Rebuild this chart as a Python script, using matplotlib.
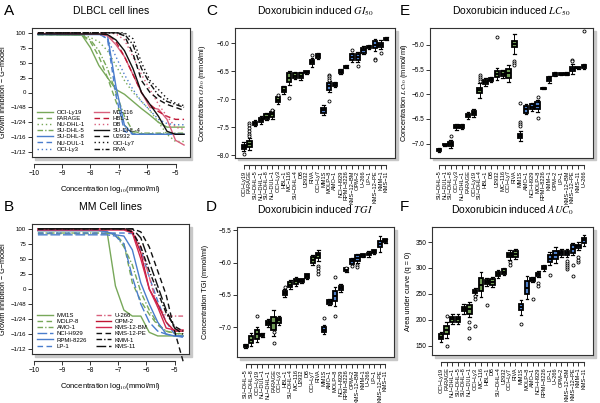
## Doxorubicin dose response: growth curves (A, B) and summary statistics (C-F)

## -----------------------
## Load libraries
import numpy as np
import matplotlib
matplotlib.use("Agg")
import matplotlib.pyplot as plt
from matplotlib.patches import Rectangle
from matplotlib.ticker import FuncFormatter

plt.rcParams['font.family'] = ['Liberation Sans', 'DejaVu Sans']
plt.rcParams['mathtext.fontset'] = 'stix'

## -----------------------
## Dose grid, log10(mmol/ml)
conc = [-9.85, -8.3, -8.0, -7.7, -7.4, -7.1, -6.8, -6.5, -6.2, -5.9, -5.6, -5.3, -5.0, -4.7]

## Panel A - DLBCL growth curves
dlbcl_lines = ["OCI-Ly19", "FARAGE", "NU-DHL-1", "SU-DHL-5", "SU-DHL-8", "NU-DUL-1", "OCI-Ly3",
               "MC-116", "HBL-1", "DB", "SU-DHL-4", "U2932", "OCI-Ly7", "RIVA"]
growth_A = [
    [97, 96, 75, 45, 25, 5, -3, -15, -27, -38, -50, -58, -58, -58],
    [97, 96, 85, 60, 25, -15, -55, -68, -69, -69, -69, -70, -70, -70],
    [97, 97, 92, 85, 70, 45, 20, 0, -15, -30, -50, -70, -82, -82],
    [97, 96, 88, 70, 40, 0, -40, -65, -68, -68, -68, -68, -68, -68],
    [97, 97, 97, 97, 96, 10, -55, -70, -70, -70, -70, -70, -70, -70],
    [99, 99, 99, 98, 90, -5, -65, -70, -70, -70, -70, -70, -70, -70],
    [99, 99, 99, 98, 90, 60, 30, 5, -15, -30, -45, -52, -54, -54],
    [99, 98, 98, 98, 95, 80, 60, 30, 0, -25, -28, -45, -80, -88],
    [100, 100, 100, 100, 98, 85, 60, 30, 0, -20, -32, -40, -45, -45],
    [100, 100, 100, 100, 100, 98, 88, 60, 30, 5, -20, -40, -58, -62],
    [98, 98, 98, 98, 97, 88, 70, 40, 0, -20, -40, -65, -70, -70],
    [100, 100, 100, 100, 100, 100, 95, 65, 20, 0, -12, -20, -25, -30],
    [100, 100, 100, 100, 100, 100, 100, 90, 50, 20, 5, -10, -18, -22],
    [100, 100, 100, 100, 100, 100, 98, 80, 40, 15, -5, -15, -20, -25],
]

## Panel B - MM growth curves
mm_lines = ["MM1S", "MOLP-8", "AMO-1", "NCI-H929", "RPMI-8226", "LP-1",
            "U-266", "OPM-2", "KMS-12-BM", "KMS-12-PE", "KMM-1", "KMS-11"]
growth_B = [
    [97, 97, 97, 97, 96, 5, -35, -45, -45, -72, -78, -78, -78, -78],
    [92, 92, 92, 92, 92, 92, 75, 10, -20, -42, -60, -70, -74, -75],
    [93, 93, 93, 93, 93, 90, 70, 40, -5, -35, -58, -70, -73, -75],
    [90, 90, 90, 90, 90, 88, 75, 20, -25, -55, -70, -75, -78, -80],
    [97, 97, 97, 97, 95, 90, 88, 65, 10, -25, -55, -75, -78, -78],
    [93, 93, 93, 93, 93, 93, 93, 92, 65, 20, -20, -55, -75, -80],
    [100, 100, 100, 100, 100, 100, 100, 97, 70, 20, -30, -45, -45, -45],
    [100, 100, 100, 100, 100, 100, 100, 95, 60, 0, -25, -55, -70, -70],
    [98, 98, 98, 98, 98, 98, 98, 93, 50, 0, -30, -65, -68, -68],
    [100, 100, 100, 100, 100, 100, 100, 100, 95, 70, 30, -10, -70, -120],
    [100, 100, 100, 100, 100, 100, 100, 95, 70, 30, -5, -40, -62, -70],
    [100, 100, 100, 100, 100, 100, 100, 100, 85, 45, 5, -35, -65, -75],
]

## Panel C - GI50 (sorted within group)
names_C = ["OCI-Ly19", "FARAGE", "SU-DHL-5", "NU-DHL-1", "SU-DHL-8", "NU-DUL-1", "OCI-Ly3", "HBL-1",
           "MC-116", "SU-DHL-4", "DB", "U2932", "RIVA", "OCI-Ly7", "MM1S", "MOLP-8", "AMO-1",
           "NCI-H929", "RPMI-8226", "KMS-12-BM", "OPM-2", "U-266", "LP-1", "KMS-12-PE", "KMM-1", "KMS-11"]
med_C = [-7.85, -7.80, -7.43, -7.37, -7.31, -7.27, -7.01, -6.83, -6.62, -6.58, -6.58, -6.52, -6.34,
         -6.23, -7.20, -6.77, -6.74, -6.51, -6.42, -6.25, -6.25, -6.13, -6.07, -6.03, -6.03, -5.92]
iqr_C = [0.04, 0.05, 0.03, 0.04, 0.04, 0.04, 0.04, 0.04, 0.08, 0.04, 0.04, 0.02, 0.04,
         0.03, 0.05, 0.06, 0.03, 0.03, 0.02, 0.05, 0.05, 0.04, 0.02, 0.06, 0.04, 0.02]
wsk_C = [0.08, 0.10, 0.05, 0.07, 0.07, 0.08, 0.08, 0.07, 0.13, 0.06, 0.07, 0.03, 0.08,
         0.06, 0.09, 0.10, 0.04, 0.04, 0.03, 0.08, 0.09, 0.07, 0.04, 0.11, 0.08, 0.03]
out_C = {"OCI-Ly19": [-7.97], "FARAGE": [-7.42, -7.47, -7.52, -7.57, -7.62, -7.66],
         "NU-DUL-1": [-7.19], "OCI-Ly3": [-6.92], "MC-116": [-6.98], "RIVA": [-6.21],
         "MOLP-8": [-6.56, -6.59, -6.62, -6.65, -7.03], "KMS-12-BM": [-6.13],
         "OPM-2": [-6.40], "KMS-12-PE": [-6.28, -6.31], "KMM-1": [-6.17]}

## Panel D - TGI
names_D = ["SU-DHL-5", "SU-DHL-8", "OCI-Ly19", "NU-DUL-1", "NU-DHL-1", "FARAGE", "OCI-Ly3", "HBL-1",
           "SU-DHL-4", "MC-116", "U2932", "DB", "OCI-Ly7", "RIVA", "MM1S", "AMO-1", "MOLP-8",
           "NCI-H929", "RPMI-8226", "OPM-2", "KMS-12-BM", "KMM-1", "U-266", "LP-1", "KMS-12-PE", "KMS-11"]
med_D = [-7.29, -7.19, -7.11, -7.12, -6.93, -6.94, -6.89, -6.47, -6.34, -6.29, -6.28, -6.21, -5.96,
         -5.89, -7.04, -6.61, -6.52, -6.39, -6.11, -5.98, -5.93, -5.89, -5.87, -5.83, -5.71, -5.66]
iqr_D = [0.02, 0.05, 0.07, 0.02, 0.03, 0.10, 0.04, 0.03, 0.04, 0.04, 0.02, 0.03, 0.04,
         0.04, 0.04, 0.03, 0.08, 0.03, 0.02, 0.04, 0.04, 0.02, 0.02, 0.02, 0.05, 0.02]
wsk_D = [0.03, 0.10, 0.12, 0.03, 0.06, 0.20, 0.07, 0.06, 0.07, 0.07, 0.03, 0.04, 0.08,
         0.09, 0.07, 0.04, 0.15, 0.06, 0.03, 0.05, 0.07, 0.03, 0.05, 0.03, 0.12, 0.03]
out_D = {"OCI-Ly19": [-6.82], "FARAGE": [-7.07, -7.25], "HBL-1": [-6.38],
         "RIVA": [-6.05, -6.09, -6.13, -6.17], "MM1S": [-6.86], "MOLP-8": [-6.22, -6.83],
         "RPMI-8226": [-6.09], "OPM-2": [-6.05], "KMS-12-BM": [-6.04, -6.07]}

## Panel E - LC50
names_E = ["SU-DHL-5", "NU-DUL-1", "SU-DHL-8", "OCI-Ly3", "NU-DHL-1", "FARAGE", "OCI-Ly19", "SU-DHL-4",
           "HBL-1", "DB", "U2932", "MC-116", "OCI-Ly7", "RIVA", "MM1S", "AMO-1", "NCI-H929", "MOLP-8",
           "RPMI-8226", "KMM-1", "OPM-2", "LP-1", "KMS-12-BM", "KMS-12-PE", "KMS-11", "U-266"]
med_E = [-7.12, -7.02, -7.00, -6.66, -6.66, -6.43, -6.38, -5.92, -5.76, -5.71, -5.59, -5.59, -5.58,
         -4.99, -6.84, -6.30, -6.25, -6.23, -5.88, -5.70, -5.60, -5.60, -5.59, -5.49, -5.46, -5.43]
iqr_E = [0.02, 0.01, 0.04, 0.03, 0.03, 0.04, 0.04, 0.05, 0.04, 0.03, 0.06, 0.05, 0.10,
         0.06, 0.04, 0.07, 0.05, 0.07, 0.01, 0.04, 0.03, 0.02, 0.02, 0.05, 0.01, 0.03]
wsk_E = [0.04, 0.02, 0.08, 0.06, 0.05, 0.08, 0.09, 0.15, 0.08, 0.05, 0.12, 0.08, 0.18,
         0.20, 0.10, 0.10, 0.08, 0.12, 0.02, 0.07, 0.04, 0.02, 0.03, 0.10, 0.02, 0.05]
out_E = {"SU-DHL-8": [-6.85], "SU-DHL-4": [-5.62, -5.66, -5.70, -5.74], "U2932": [-4.85],
         "RIVA": [-5.32, -5.37, -5.41], "MM1S": [-6.18, -6.56, -6.60, -6.64],
         "MOLP-8": [-6.05, -6.48], "KMS-12-PE": [-5.30, -5.33], "U-266": [-4.72]}

## Panel F - AUC (q = 0)
names_F = ["OCI-Ly19", "FARAGE", "NU-DHL-1", "SU-DHL-5", "SU-DHL-8", "NU-DUL-1", "OCI-Ly3", "MC-116",
           "HBL-1", "DB", "SU-DHL-4", "U2932", "OCI-Ly7", "RIVA", "MM1S", "MOLP-8", "AMO-1",
           "NCI-H929", "RPMI-8226", "LP-1", "U-266", "OPM-2", "KMS-12-BM", "KMS-12-PE", "KMM-1", "KMS-11"]
med_F = [167, 180, 201, 201, 221, 220, 254, 268, 273, 273, 288, 293, 325, 327,
         224, 262, 277, 288, 300, 318, 325, 329, 329, 337, 342, 353]
iqr_F = [5, 7, 5, 5, 4, 8, 3, 12, 4, 5, 4, 4, 4, 5, 6, 12, 3, 3, 3, 7, 8, 4, 4, 8, 3, 5]
wsk_F = [10, 15, 10, 10, 10, 15, 7, 25, 8, 10, 8, 7, 10, 10, 15, 22, 5, 6, 6, 12, 15, 7, 8, 12, 8, 10]
out_F = {"FARAGE": [208, 150], "NU-DUL-1": [195, 184, 165], "OCI-Ly3": [245, 240, 188],
         "HBL-1": [228], "OCI-Ly7": [311, 306], "MM1S": [192], "AMO-1": [240],
         "NCI-H929": [270, 266], "LP-1": [286], "KMS-12-BM": [298, 302, 306, 310, 314],
         "KMS-12-PE": [284, 306], "KMM-1": [311, 316, 321]}

## -----------------------
## Styles
GREEN = '#78a85a'
BLUE = '#4a7dcc'
RED = '#c01533'
CRIMSON = '#d3284f'
PINK = '#d8607c'
BLACK = '#111111'
SOLID = '-'
DASH = (0, (4, 2.5))
DOT = (0, (1, 2))
DASHDOT = (0, (4, 1.5, 1, 1.5))
LONGDASH = (0, (7, 2))

col_A = [GREEN]*4 + [BLUE]*3 + [PINK, RED, PINK] + [BLACK]*4
ls_A = [SOLID, DASH, DOT, DASHDOT, SOLID, DASH, DOT, SOLID, DASH, DOT, SOLID, DASH, DOT, DASHDOT]
col_B = [GREEN]*3 + [BLUE]*3 + [PINK, RED, CRIMSON] + [BLACK]*3
ls_B = [SOLID, DASH, DASHDOT, LONGDASH, SOLID, DASH, DASHDOT, SOLID, SOLID, DASH, DASHDOT, LONGDASH]

BOX_GREEN = '#6f9a55'
BOX_BLUE = '#4f7fc8'
FRAME = '#333333'

def minus(s):
    return s.replace('-', '\u2212')

def frame_axes(ax, lo, hi):
    ## box round the plot, x axis drawn a little below it (R style)
    for sp in ax.spines.values():
        sp.set_color(FRAME)
        sp.set_linewidth(0.8)
    ax.spines['bottom'].set_position(('outward', 5))
    ax.spines['bottom'].set_bounds(lo, hi)
    ax.plot([0, 1], [0, 0], transform=ax.transAxes, color=FRAME, lw=0.8, clip_on=False)
    ax.tick_params(length=3, width=0.7, color=FRAME, labelsize=4.7, pad=1.2)
    ## soft shadow
    bb = ax.get_position()
    fig.patches.append(Rectangle((bb.x0 + 2.5/600, bb.y0 - 2.5/403), bb.width, bb.height,
                                 transform=fig.transFigure, color='#c8c8c8', zorder=-1))

def curve_panel(ax, names, growth, cols, styles, title, ylab_x):
    for i in range(len(names)):
        ax.plot(conc, growth[i], color=cols[i], linestyle=styles[i], lw=1.0, label=names[i])
    ax.set_xlim(-10.06, -4.49)
    ax.set_ylim(-108, 108)
    ax.set_xticks([-10, -9, -8, -7, -6, -5])
    ax.set_xticklabels([minus(str(v)) for v in [-10, -9, -8, -7, -6, -5]])
    ax.set_yticks([100, 75, 50, 25, 0, -25, -50, -75, -100])
    ax.set_yticklabels(['100', '75', '50', '25', '0', '\u22121/48', '\u22121/24', '\u22121/16', '\u22121/12'])
    frame_axes(ax, -10, -5)
    ax.tick_params(axis='y', labelsize=4.4)
    ax.set_title(title, fontsize=7.5, pad=10)
    ax.set_ylabel('Growth inhibition \u2212 G\u2212model', fontsize=5.2)
    ax.yaxis.set_label_coords(ylab_x, 0.5)
    ax.set_xlabel('Concentration log$_{10}$(mmol/ml)', fontsize=5.5, labelpad=5)
    ax.legend(ncol=2, loc='lower left', fontsize=4.3, frameon=False, handlelength=2.6,
              columnspacing=1.5, labelspacing=0.15, handletextpad=0.6, borderaxespad=0.5)

def box_panel(ax, names, med, iqr, wsk, outliers, ylim, yticks, title, ylabel, ylab_x):
    stats = []
    for i in range(len(names)):
        stats.append(dict(med=med[i], q1=med[i] - iqr[i], q3=med[i] + iqr[i],
                          whislo=med[i] - wsk[i], whishi=med[i] + wsk[i],
                          fliers=outliers.get(names[i], [])))
    bp = ax.bxp(stats, positions=range(1, len(names) + 1), widths=0.75, patch_artist=True,
                boxprops=dict(edgecolor='black', linewidth=1.3),
                medianprops=dict(color='black', linewidth=1.4),
                whiskerprops=dict(color='black', linewidth=0.7),
                capprops=dict(color='black', linewidth=0.9), capwidths=0.45,
                flierprops=dict(marker='o', markersize=2.2, markerfacecolor='white',
                                markeredgecolor='black', markeredgewidth=0.6))
    for i, b in enumerate(bp['boxes']):
        b.set_facecolor(BOX_GREEN if names[i] in dlbcl_lines else BOX_BLUE)
    ax.set_xlim(-0.54, len(names) + 1.54)
    ax.set_ylim(*ylim)
    ax.set_yticks(yticks)
    ax.yaxis.set_major_formatter(FuncFormatter(
        lambda v, p: ('%.1f' % v).replace('-', '\u2212') if v < 0 else '%d' % v))
    ax.set_xticks(range(1, len(names) + 1))
    ax.set_xticklabels([minus(n) for n in names])
    frame_axes(ax, 1, len(names))
    ax.tick_params(axis='x', labelsize=4.1, labelrotation=90, pad=1)
    ax.set_title(title, fontsize=7.5, pad=10)
    ax.set_ylabel(ylabel, fontsize=5.3)
    ax.yaxis.set_label_coords(ylab_x, 0.5)

## -----------------------
## Figure
fig = plt.figure(figsize=(6, 4.03), dpi=100)

axA = fig.add_axes([32/600, 1 - 157/403, 158/600, 129/403])
axB = fig.add_axes([32/600, 1 - 354/403, 157/600, 130/403])
axC = fig.add_axes([235/600, 1 - 158/403, 160/600, 130/403])
axD = fig.add_axes([237/600, 1 - 357/403, 157/600, 130/403])
axE = fig.add_axes([430/600, 1 - 158/403, 163/600, 130/403])
axF = fig.add_axes([432/600, 1 - 355/403, 161/600, 128/403])

curve_panel(axA, dlbcl_lines, growth_A, col_A, ls_A, 'DLBCL cell lines', -0.158)
curve_panel(axB, mm_lines, growth_B, col_B, ls_B, 'MM Cell lines', -0.158)
for ln in axB.lines:
    ln.set_clip_on(False)

box_panel(axC, names_C, med_C, iqr_C, wsk_C, out_C, (-8.05, -5.73), [-8.0, -7.5, -7.0, -6.5, -6.0],
          r'Doxorubicin induced $GI_{50}$', r'Concentration $GI_{50}$ (mmol/ml)', -0.17)
box_panel(axD, names_D, med_D, iqr_D, wsk_D, out_D, (-7.46, -5.45), [-7.0, -6.5, -6.0, -5.5],
          r'Doxorubicin induced $TGI$', 'Concentration TGI (mmol/ml)', -0.18)
box_panel(axE, names_E, med_E, iqr_E, wsk_E, out_E, (-7.29, -4.66), [-7.0, -6.5, -6.0, -5.5, -5.0],
          r'Doxorubicin induced $LC_{50}$', r'Concentration $LC_{50}$ (mmol/ml)', -0.125)
box_panel(axF, names_F, med_F, iqr_F, wsk_F, out_F, (132, 379), [150, 200, 250, 300, 350],
          r'Doxorubicin induced $AUC_0$', 'Area under curve (q = 0)', -0.125)

## panel letters
for letter, x, y in [('A', 4, 4), ('B', 4, 200), ('C', 206, 4), ('D', 206, 200), ('E', 400, 4), ('F', 400, 200)]:
    fig.text(x/600, 1 - y/403, letter, fontsize=11, va='top', ha='left')

fig.savefig('out.png', dpi=100)
